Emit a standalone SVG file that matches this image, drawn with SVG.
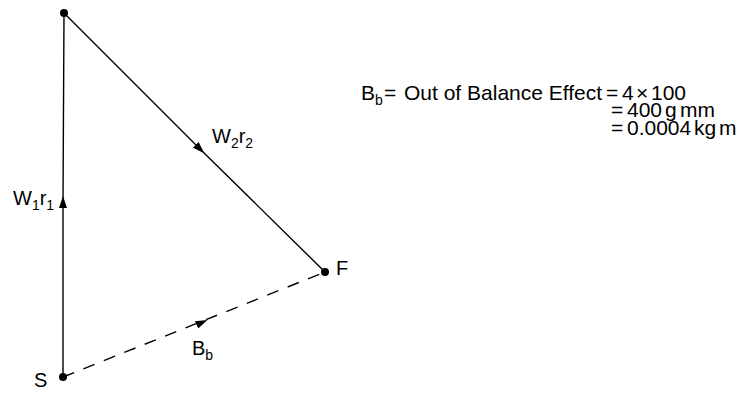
<svg xmlns="http://www.w3.org/2000/svg" width="740" height="393" viewBox="0 0 740 393">
<style>
.t{font-family:"Liberation Sans",Arial,sans-serif;font-size:20px;fill:#000}
.e{font-size:21px}
.s{font-size:14px}
.ln{stroke:#000;stroke-width:1.4;fill:none}
.d{stroke-dasharray:12,10}
</style>
<defs>
<marker id="ah" viewBox="0 0 12 8" refX="6" refY="4" markerWidth="12" markerHeight="8" markerUnits="userSpaceOnUse" orient="auto"><path d="M0,0 L12,4 L0,8 Z" fill="#000"/></marker>
</defs>
<rect width="740" height="393" fill="#fff"/>
<g id="connectors">
<path class="ln" d="M63,377 L63,202 L64,13" marker-mid="url(#ah)"/>
<path class="ln" d="M64,13 L200,149 L325,272" marker-mid="url(#ah)"/>
<path class="ln d" d="M63,377 L325,272"/>
<path d="M185,330 L202,322.5" stroke="none" fill="none" marker-end="url(#ah)"/>
</g>
<g id="node-top"><circle cx="64" cy="13" r="4"/></g>
<g id="node-S"><circle cx="63" cy="377" r="4"/><text class="t" x="34" y="387">S</text></g>
<g id="node-F"><circle cx="325" cy="272" r="4"/><text class="t" x="336" y="275">F</text></g>
<g id="label-W1r1"><text class="t" x="13" y="205">W<tspan class="s" dy="5">1</tspan><tspan dy="-5">r</tspan><tspan class="s" dy="5">1</tspan></text></g>
<g id="label-W2r2"><text class="t" x="212" y="143">W<tspan class="s" dy="5">2</tspan><tspan dy="-5">r</tspan><tspan class="s" dy="5">2</tspan></text></g>
<g id="label-Bb"><text class="t" x="192" y="355">B<tspan class="s" dy="5">b</tspan></text></g>
<g id="equation" class="t e">
<text y="99.5"><tspan x="361">B</tspan><tspan class="s" dy="5">b</tspan><tspan x="384" dy="-5">=</tspan><tspan x="404">Out of Balance Effect</tspan><tspan x="606">=</tspan><tspan x="622">4</tspan><tspan x="636">×</tspan><tspan x="651">100</tspan></text>
<text y="117"><tspan x="611">=</tspan><tspan x="627">400</tspan><tspan x="665">g</tspan><tspan x="680">mm</tspan></text>
<text y="135"><tspan x="611">=</tspan><tspan x="627">0.0004</tspan><tspan x="694">kg</tspan><tspan x="719">m</tspan></text>
</g>
</svg>
